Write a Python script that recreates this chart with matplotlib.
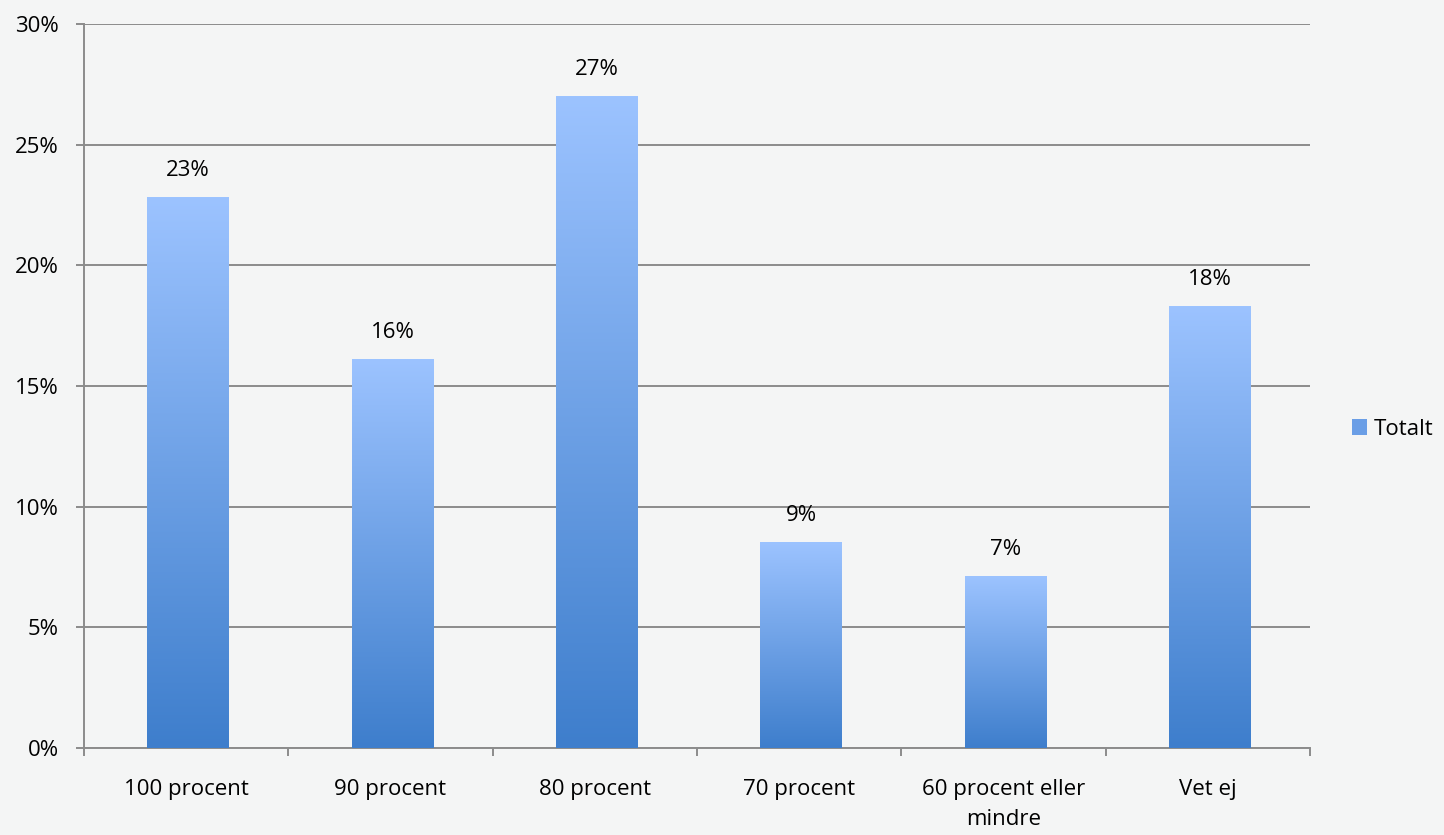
import numpy as np
import matplotlib.pyplot as plt
from matplotlib.patches import Patch
from matplotlib.ticker import MultipleLocator, FuncFormatter

categories = ['100 procent', '90 procent', '80 procent', '70 procent',
              '60 procent eller\nmindre', 'Vet ej']
values = [22.8, 16.1, 27.0, 8.5, 7.1, 18.3]
value_labels = ['23%', '16%', '27%', '9%', '7%', '18%']
series_name = 'Totalt'

plt.rcParams['font.family'] = ['Open Sans', 'DejaVu Sans']

bg = '#f4f5f5'
grid_c = '#8c8c8c'
top_c = np.array([0x9c, 0xc3, 0xff]) / 255
bot_c = np.array([0x3e, 0x7e, 0xcc]) / 255
fs = 16

fig = plt.figure(figsize=(14.44, 8.35), dpi=100, facecolor=bg)
ax = fig.add_axes([0.0582, 0.1042, 0.849, 0.8671], facecolor=bg)

x = np.arange(len(categories))
bars = ax.bar(x + 0.01, values, width=0.40, color='none', zorder=3)

# vertical gradient per bar: light at top, dark at bottom
t = np.linspace(0, 1, 256)[:, None]
grad = (1 - t) * top_c + t * bot_c
grad = grad[:, None, :]
for b in bars:
    x0, y0 = b.get_x(), b.get_y()
    w, h = b.get_width(), b.get_height()
    ax.imshow(grad, extent=[x0, x0 + w, y0, y0 + h], aspect='auto',
              origin='upper', zorder=3, interpolation='bilinear')

for xi, v, lab in zip(x, values, value_labels):
    ax.annotate(lab, (xi + 0.01, v), xytext=(0, 12), textcoords='offset points',
                ha='center', va='bottom', fontsize=fs, color='black')

ax.set_xlim(-0.5, len(categories) - 0.5)
ax.set_ylim(0, 30)
ax.yaxis.set_major_locator(MultipleLocator(5))
ax.yaxis.set_major_formatter(FuncFormatter(lambda v, p: f'{v:.0f}%'))
ax.grid(axis='y', color=grid_c, linewidth=1.4, zorder=1)
ax.set_axisbelow(True)

ax.set_xticks(x)
ax.set_xticklabels(categories, fontsize=fs, linespacing=1.6)
ax.set_xticks(np.arange(-0.5, len(categories)), minor=True)
ax.tick_params(axis='x', which='major', length=0, pad=22)
ax.tick_params(axis='x', which='minor', length=6, width=1.4, color=grid_c)
ax.tick_params(axis='y', length=6, width=1.4, color=grid_c, labelsize=fs, pad=12)

for s in ['top', 'right']:
    ax.spines[s].set_visible(False)
for s in ['left', 'bottom']:
    ax.spines[s].set_color(grid_c)
    ax.spines[s].set_linewidth(1.4)

handle = Patch(facecolor='#6a9ee6', edgecolor='none')
ax.legend([handle], [series_name], loc='center left', bbox_to_anchor=(1.025, 0.44),
          frameon=False, fontsize=fs, handlelength=0.7, handleheight=0.7,
          handletextpad=0.3, borderpad=0)

fig.savefig('out.png', dpi=100, facecolor=bg)
